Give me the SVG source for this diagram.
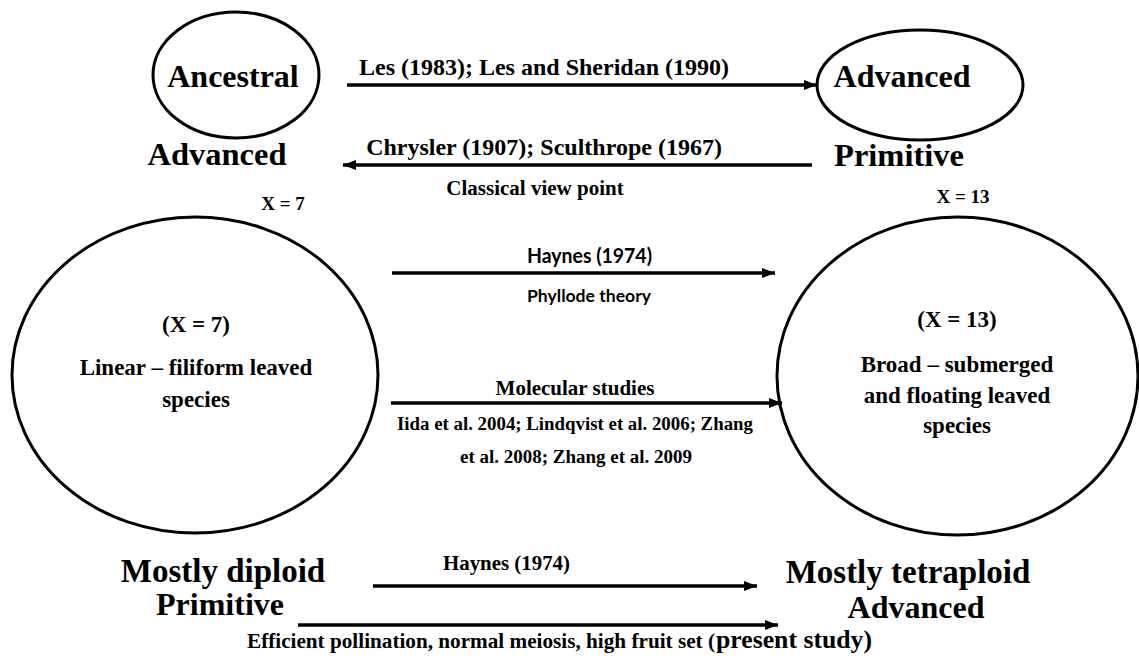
<svg xmlns="http://www.w3.org/2000/svg" width="1139" height="658" viewBox="0 0 1139 658">
<defs>
<marker id="ah" markerUnits="userSpaceOnUse" markerWidth="14" markerHeight="12" refX="13" refY="6" orient="auto">
<path d="M0,1 L13,6 L0,11 Z" fill="#000"/>
</marker>
<style>
.ser{font-family:"Liberation Serif","Times New Roman",serif;font-weight:bold;fill:#000}
.san{font-family:Lato,"Liberation Sans",sans-serif;font-weight:bold;fill:#000}
.el{fill:none;stroke:#000;stroke-width:3}
.ln{stroke:#000;stroke-width:3.5;fill:none}
</style>
</defs>
<rect width="1139" height="658" fill="#fff"/>
<g id="ancestral">
<ellipse class="el" cx="236" cy="75" rx="83" ry="63"/>
<text class="ser" x="233" y="87" font-size="32" text-anchor="middle">Ancestral</text>
<text class="ser" x="217" y="165" font-size="32.5" text-anchor="middle">Advanced</text>
</g>
<g id="advanced-top">
<ellipse class="el" cx="920" cy="85" rx="103" ry="55"/>
<text class="ser" x="902" y="87" font-size="32" text-anchor="middle">Advanced</text>
<text class="ser" x="899" y="166" font-size="32.5" text-anchor="middle">Primitive</text>
</g>
<g id="linear">
<ellipse class="el" cx="195" cy="375" rx="183" ry="158"/>
<text class="ser" x="283" y="210" font-size="19" text-anchor="middle">X = 7</text>
<text class="ser" x="196" y="332" font-size="23" text-anchor="middle">(X = 7)</text>
<text class="ser" x="196" y="375" font-size="23" text-anchor="middle">Linear – filiform leaved</text>
<text class="ser" x="196" y="407" font-size="23" text-anchor="middle">species</text>
</g>
<g id="broad">
<ellipse class="el" cx="957.5" cy="376" rx="180.5" ry="159"/>
<text class="ser" x="963" y="203" font-size="19" text-anchor="middle">X = 13</text>
<text class="ser" x="957" y="327" font-size="23" text-anchor="middle">(X = 13)</text>
<text class="ser" x="957" y="372" font-size="23" text-anchor="middle">Broad – submerged</text>
<text class="ser" x="957" y="403" font-size="23" text-anchor="middle">and floating leaved</text>
<text class="ser" x="957" y="433" font-size="23" text-anchor="middle">species</text>
</g>
<g id="diploid">
<text class="ser" x="223" y="582" font-size="33" text-anchor="middle">Mostly diploid</text>
<text class="ser" x="220" y="615" font-size="32" text-anchor="middle">Primitive</text>
</g>
<g id="tetraploid">
<text class="ser" x="908" y="583" font-size="33" text-anchor="middle">Mostly tetraploid</text>
<text class="ser" x="916" y="618" font-size="32" text-anchor="middle">Advanced</text>
</g>
<g id="connectors">
<line class="ln" x1="347" y1="85" x2="817" y2="85" marker-end="url(#ah)"/>
<line class="ln" x1="812" y1="165" x2="343" y2="165" marker-end="url(#ah)"/>
<line class="ln" x1="392" y1="273" x2="775" y2="273" marker-end="url(#ah)"/>
<line class="ln" x1="391" y1="403" x2="782" y2="403" marker-end="url(#ah)"/>
<line class="ln" x1="373" y1="586" x2="757" y2="586" marker-end="url(#ah)"/>
<line class="ln" x1="298" y1="625" x2="778" y2="625" marker-end="url(#ah)"/>
<text class="ser" x="544" y="75" font-size="24" text-anchor="middle">Les (1983); Les and Sheridan (1990)</text>
<text class="ser" x="544" y="155" font-size="24" text-anchor="middle">Chrysler (1907); Sculthrope (1967)</text>
<text class="ser" x="535" y="195" font-size="21" text-anchor="middle">Classical view point</text>
<text class="san" x="527" y="263" font-size="20" textLength="125" lengthAdjust="spacingAndGlyphs">Haynes (1974)</text>
<text class="san" x="527" y="302" font-size="17" textLength="124" lengthAdjust="spacingAndGlyphs">Phyllode theory</text>
<text class="ser" x="575" y="395" font-size="21" text-anchor="middle">Molecular studies</text>
<text class="ser" x="397" y="430" font-size="18.6" textLength="356" lengthAdjust="spacingAndGlyphs">Iida et al. 2004; Lindqvist et al. 2006; Zhang</text>
<text class="ser" x="460" y="463" font-size="18.6" textLength="232" lengthAdjust="spacingAndGlyphs">et al. 2008; Zhang et al. 2009</text>
<text class="ser" x="443" y="570" font-size="21" textLength="127" lengthAdjust="spacingAndGlyphs">Haynes (1974)</text>
<text class="ser" x="247" y="648" font-size="21" textLength="468" lengthAdjust="spacingAndGlyphs">Efficient pollination, normal meiosis, high fruit set (</text>
<text class="ser" x="716" y="648" font-size="26" textLength="156" lengthAdjust="spacingAndGlyphs">present study)</text>
</g>
</svg>
